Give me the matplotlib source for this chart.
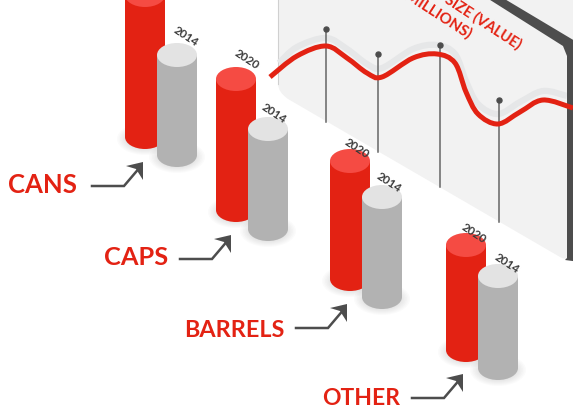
import matplotlib
matplotlib.use('Agg')
import matplotlib.pyplot as plt
from matplotlib.patches import Ellipse, Polygon, Rectangle, PathPatch
from matplotlib.path import Path

plt.rcParams['font.family'] = ['Lato', 'DejaVu Sans']

categories = ['CANS', 'CAPS', 'BARRELS', 'OTHER']
height_2020 = [142, 131, 118, 105]
height_2014 = [100, 100, 100, 92]

# market size curve in pixels
curve_x = [270, 297, 326, 347, 367, 382, 413, 437, 455, 466, 478, 498, 520, 543, 573]
curve_y = [77, 56, 46, 58, 73, 77, 58, 54, 63, 92, 114, 124, 112, 100, 108]
pale_x = [279, 297, 326, 347, 367, 382, 413, 437, 455, 466, 478, 498, 520, 543, 567]
pale_y = [63, 47, 38, 49, 64, 68, 49, 45, 54, 81, 104, 114, 102, 91, 96]
pin_x = [326, 378, 440, 499]
pin_y = [29, 54, 45, 100]
pin_end = [122, 152, 187, 222]

RED = '#e32213'
RED_TOP = '#f54b43'
GREY = '#b2b2b2'
GREY_TOP = '#e3e3e3'
DARK = '#4d4d4d'

# layout: base of each cylinder in pixels
red_base = [(145, 137), (236, 210), (350, 279), (466, 350)]
grey_base = [(177, 155), (268, 229), (382, 297), (498, 368)]
label_pos = [(8, 193), (104, 265), (184, 337), (322, 405)]
label_size = [18.5, 18.3, 16.8, 16.5]
arrow_start = [(92, 186), (180, 259), (296, 328), (412, 398)]
year_2020_pos = [None, (247, 59), (357, 148), (474, 233)]
year_2014_pos = [(186, 36), (274, 113), (389, 182), (507, 263)]


def smooth(xs, ys):
    # catmull-rom through the read points
    pts = list(zip(xs, ys))
    verts = [pts[0]]
    codes = [Path.MOVETO]
    for i in range(len(pts) - 1):
        p0 = pts[max(i - 1, 0)]
        p1 = pts[i]
        p2 = pts[i + 1]
        p3 = pts[min(i + 2, len(pts) - 1)]
        verts.append((p1[0] + (p2[0] - p0[0]) / 6, p1[1] + (p2[1] - p0[1]) / 6))
        verts.append((p2[0] - (p3[0] - p1[0]) / 6, p2[1] - (p3[1] - p1[1]) / 6))
        verts.append(p2)
        codes += [Path.CURVE4] * 3
    return Path(verts, codes)


def shadow(ax, x, y):
    for k in range(7):
        ax.add_patch(Ellipse((x, y + 2), 56 - k * 3, 32 - k * 2, color='#808080',
                             alpha=0.03, lw=0, zorder=2))


def cylinder(ax, x, base, h, body, top, z):
    w = 40
    ry = 24
    ax.add_patch(Ellipse((x, base), w, ry, color=body, lw=0, zorder=z))
    ax.add_patch(Rectangle((x - w / 2, base - h), w, h, color=body, lw=0, zorder=z))
    ax.add_patch(Ellipse((x, base - h), w, ry, color=top, lw=0, zorder=z))


fig = plt.figure(figsize=(5.73, 4.2), dpi=100)
ax = fig.add_axes([0, 0, 1, 1])
ax.set_xlim(0, 573)
ax.set_ylim(420, 0)
ax.axis('off')

# back panel
panel = Path([(278, -2), (278, 84), (278, 92), (288, 99), (560, 257), (565, 260), (570, 259),
              (580, 259), (580, -2), (278, -2)],
             [Path.MOVETO, Path.LINETO, Path.CURVE3, Path.CURVE3, Path.LINETO, Path.CURVE3,
              Path.CURVE3, Path.LINETO, Path.LINETO, Path.CLOSEPOLY])
ax.add_patch(PathPatch(panel, fc='#f2f2f2', ec='none', zorder=1))
ax.plot([278, 278], [0, 84], color='#d0d0d0', lw=0.8, zorder=1)

# curve and its pale offset
ax.add_patch(PathPatch(smooth(pale_x, pale_y), fc='none', ec='#e6e7e8', lw=4.5,
                       capstyle='butt', zorder=3))
ax.add_patch(Polygon([(487, -2), (503, -2), (580, 44), (580, 262), (565, 260), (567, 258),
                      (567, 56), (563, 46)], closed=True, fc=DARK, ec='none', zorder=3.5))
for x, y, e in zip(pin_x, pin_y, pin_end):
    ax.plot([x, x], [y, e], color='#666666', lw=1.1, zorder=4)
ax.plot(pin_x, pin_y, 'o', color=DARK, ms=3.6, zorder=6)
ax.add_patch(PathPatch(smooth(curve_x, curve_y), fc='none', ec=RED, lw=3.6,
                       capstyle='butt', zorder=5))

ax.text(518, 50, 'MARKET SIZE (VALUE)', color=RED, fontsize=10.5, fontweight='bold', rotation=-33,
        rotation_mode='anchor', ha='right', va='baseline', zorder=6)
ax.text(468, 39, '($MILLIONS)', color=RED, fontsize=11, fontweight='bold', rotation=-33,
        rotation_mode='anchor', ha='right', va='baseline', zorder=6)

# cylinders
for i in range(len(categories)):
    rx, ry = red_base[i]
    gx, gy = grey_base[i]
    shadow(ax, rx, ry)
    shadow(ax, gx, gy)
    cylinder(ax, rx, ry, height_2020[i], RED, RED_TOP, 10 + i * 2)
    cylinder(ax, gx, gy, height_2014[i], GREY, GREY_TOP, 11 + i * 2)

    ax.text(label_pos[i][0], label_pos[i][1], categories[i], color=RED, fontsize=label_size[i],
            fontweight='bold', ha='left', va='baseline', zorder=20)

    # arrow
    sx, sy = arrow_start[i]
    ax.plot([sx, sx + 32, sx + 49], [sy, sy, sy - 20], color=DARK, lw=1.8, zorder=20,
            solid_joinstyle='miter')
    tx, ty = sx + 51, sy - 24
    ax.add_patch(Polygon([(tx, ty), (tx - 17, ty + 4), (tx - 7, ty + 7), (tx, ty + 18)],
                         closed=True, fc=DARK, ec='none', zorder=20))

    if year_2020_pos[i] is not None:
        ax.text(*year_2020_pos[i], '2020', color='#3a3a3a', fontsize=8.5, fontweight='bold', rotation=-33,
                rotation_mode='anchor', ha='center', va='center', zorder=21)
    ax.text(*year_2014_pos[i], '2014', color='#3a3a3a', fontsize=8.5, fontweight='bold', rotation=-33,
            rotation_mode='anchor', ha='center', va='center', zorder=21)

fig.savefig('out.png', dpi=100)
